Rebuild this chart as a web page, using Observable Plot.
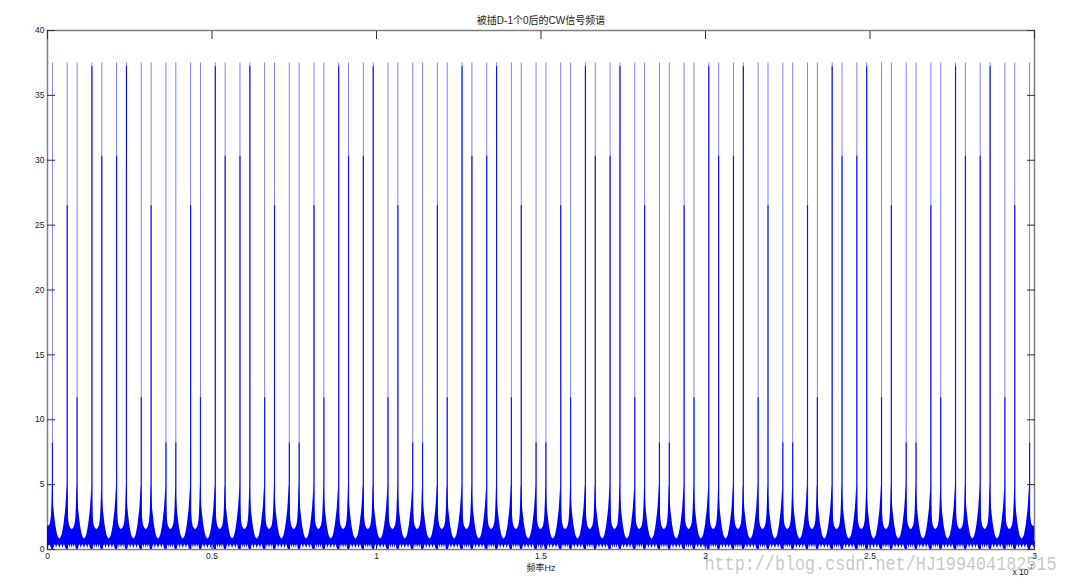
<!DOCTYPE html>
<html><head><meta charset="utf-8">
<script src="https://cdn.jsdelivr.net/npm/d3@7"></script>
<script src="https://cdn.jsdelivr.net/npm/@observablehq/plot@0.6"></script>
<style>
body{margin:0;background:#fff;}
#chart{width:1067px;height:581px;}
</style></head><body><div id="chart"></div>
<script>
// ---- text ----
const titleText = "被插D-1个0后的CW信号频谱";
const xLabelText = "频率Hz";
const xExpBase = "x 10";
const xExpPow = "7";
const watermarkText = "http://blog.csdn.net/HJ199404182515";

// ---- ticks ----
const xTicks = [0, 0.5e7, 1e7, 1.5e7, 2e7, 2.5e7, 3e7];
const xTickLabels = ["0", "0.5", "1", "1.5", "2", "2.5", "3"];
const yTicks = [0, 5, 10, 15, 20, 25, 30, 35, 40];

// ---- spectral lines (frequency in MHz) ----
const spikeFreqMHz = [
  0.15,
  0.6, 0.9, 1.35, 1.65, 2.1, 2.4, 2.85, 3.15, 3.6, 3.9,
  4.35, 4.65, 5.1, 5.4, 5.85, 6.15, 6.6, 6.9, 7.35, 7.65,
  8.1, 8.4, 8.85, 9.15, 9.6, 9.9, 10.35, 10.65, 11.1, 11.4,
  11.85, 12.15, 12.6, 12.9, 13.35, 13.65, 14.1, 14.4, 14.85, 15.15,
  15.6, 15.9, 16.35, 16.65, 17.1, 17.4, 17.85, 18.15, 18.6, 18.9,
  19.35, 19.65, 20.1, 20.4, 20.85, 21.15, 21.6, 21.9, 22.35, 22.65,
  23.1, 23.4, 23.85, 24.15, 24.6, 24.9, 25.35, 25.65, 26.1, 26.4,
  26.85, 27.15, 27.6, 27.9, 28.35, 28.65, 29.1, 29.4,
  29.85
];
// peak of every line
const spikePeak = [
  37.5,
  37.5, 37.5, 37.5, 37.5, 37.5, 37.5, 37.5, 37.5, 37.5, 37.5,
  37.5, 37.5, 37.5, 37.5, 37.5, 37.5, 37.5, 37.5, 37.5, 37.5,
  37.5, 37.5, 37.5, 37.5, 37.5, 37.5, 37.5, 37.5, 37.5, 37.5,
  37.5, 37.5, 37.5, 37.5, 37.5, 37.5, 37.5, 37.5, 37.5, 37.5,
  37.5, 37.5, 37.5, 37.5, 37.5, 37.5, 37.5, 37.5, 37.5, 37.5,
  37.5, 37.5, 37.5, 37.5, 37.5, 37.5, 37.5, 37.5, 37.5, 37.5,
  37.5, 37.5, 37.5, 37.5, 37.5, 37.5, 37.5, 37.5, 37.5, 37.5,
  37.5, 37.5, 37.5, 37.5, 37.5, 37.5, 37.5, 37.5,
  37.5
];
// height of the neighbouring FFT sample (dense part of each line)
const spikeShoulder = [
  8.2,
  26.5, 11.7, 37.2, 30.3, 30.3, 37.2, 11.7, 26.5, 8.2, 8.2,
  26.5, 11.7, 37.2, 30.3, 30.3, 37.2, 11.7, 26.5, 8.2, 8.2,
  26.5, 11.7, 37.2, 30.3, 30.3, 37.2, 11.7, 26.5, 8.2, 8.2,
  26.5, 11.7, 37.2, 30.3, 30.3, 37.2, 11.7, 26.5, 8.2, 8.2,
  26.5, 11.7, 37.2, 30.3, 30.3, 37.2, 11.7, 26.5, 8.2, 8.2,
  26.5, 11.7, 37.2, 30.3, 30.3, 37.2, 11.7, 26.5, 8.2, 8.2,
  26.5, 11.7, 37.2, 30.3, 30.3, 37.2, 11.7, 26.5, 8.2, 8.2,
  26.5, 11.7, 37.2, 30.3, 30.3, 37.2, 11.7, 26.5,
  8.2
];

// ---- leakage floor envelope read between two lines (t = fraction of the gap) ----
const gapT        = [0, 0.02, 0.05, 0.1, 0.16, 0.22, 0.28, 0.35, 0.42, 0.5, 0.58, 0.65, 0.72, 0.78, 0.84, 0.9, 0.95, 0.98, 1];
const farGapTop   = [5.0, 4.6, 4.0, 3.1, 2.5, 1.9, 1.5, 1.1, 0.9, 0.8, 0.9, 1.1, 1.5, 1.9, 2.5, 3.1, 4.0, 4.6, 5.0];
const closeGapTop = [5.0, 4.6, 3.8, 2.8, 2.2, 1.9, 1.75, 1.65, 1.58, 1.55, 1.58, 1.65, 1.75, 1.9, 2.2, 2.8, 3.8, 4.6, 5.0];
const gapLow      = [0, 0, 0, 0.1, 0.35, 0.35, 0.08, 0.35, 0.35, 0.08, 0.35, 0.35, 0.08, 0.35, 0.35, 0.1, 0, 0, 0];
const edgeT   = [0, 0.3, 0.6, 0.8, 0.92, 1];
const edgeTop = [1.8, 1.8, 2.0, 2.6, 3.6, 5.0];
const edgeLow = [0.1, 0.3, 0.3, 0.1, 0, 0];

// ---- build tables ----
const spikes = spikeFreqMHz.map((f, i) => ({f: f * 1e6, peak: spikePeak[i], shoulder: spikeShoulder[i]}));
const fMax = xTicks[xTicks.length - 1];
const fill = [];
const first = spikes[0].f, last = spikes[spikes.length - 1].f;
edgeT.forEach((t, j) => fill.push({f: t * first, hi: edgeTop[j], lo: edgeLow[j]}));
for (let i = 0; i < spikes.length - 1; i++) {
  const a = spikes[i].f, b = spikes[i + 1].f;
  const top = (b - a) < 0.4e6 ? closeGapTop : farGapTop;
  gapT.forEach((t, j) => fill.push({f: a + t * (b - a), hi: top[j], lo: gapLow[j]}));
}
for (let j = edgeT.length - 1; j >= 0; j--) {
  fill.push({f: last + (1 - edgeT[j]) * (fMax - last), hi: edgeTop[j], lo: edgeLow[j]});
}

const font = "'Liberation Sans', Arial, 'Noto Sans CJK SC', sans-serif";
const tickCol = "#333";

const plot = Plot.plot({
  width: 1067, height: 581,
  marginLeft: 47, marginRight: 33, marginTop: 30, marginBottom: 32,
  style: {fontFamily: font, fontSize: "8.5px", color: "#1a1a1a", background: "#fff"},
  x: {domain: [0, fMax], label: null},
  y: {domain: [0, 40], label: null},
  marks: [
    Plot.text([watermarkText], {frameAnchor: "bottom-right", dx: 22, dy: 14, textAnchor: "end", lineAnchor: "middle",
      fontFamily: "'Liberation Mono', monospace", fontSize: 20, fill: "#bdbdbd", fillOpacity: 0.85, text: d => d}),
    Plot.frame({stroke: "#7f7f7f", strokeWidth: 1.5}),
    Plot.axisY(yTicks, {anchor: "left", tickSize: -8, tickFormat: () => "", stroke: tickCol, label: null}),
    Plot.axisY(yTicks, {anchor: "right", tickSize: -8, tickFormat: () => "", stroke: tickCol, label: null}),
    Plot.axisX(xTicks, {anchor: "top", tickSize: -8, tickFormat: () => "", stroke: tickCol, label: null}),
    Plot.axisX(xTicks, {anchor: "bottom", tickSize: -8, tickFormat: () => "", stroke: tickCol, label: null}),
    Plot.areaY(fill, {x: "f", y1: "lo", y2: "hi", fill: "#0000ff"}),
    Plot.ruleX(spikes, {x: "f", y1: 0, y2: "peak", stroke: "#0000ff", strokeOpacity: 0.5, strokeWidth: 1}),
    Plot.ruleX(spikes, {x: "f", y1: 0, y2: "shoulder", stroke: "#0000ff", strokeOpacity: 0.85, strokeWidth: 1.2}),
    Plot.axisY(yTicks, {anchor: "left", tickSize: 0, tickPadding: 3, label: null, fill: "#1a1a1a"}),
    Plot.axisX(xTicks, {anchor: "bottom", tickSize: 0, tickPadding: 3, label: null, fill: "#1a1a1a",
      tickFormat: d => xTickLabels[xTicks.indexOf(d)]}),
    Plot.text([titleText], {frameAnchor: "top", dy: -10, lineAnchor: "middle", fontSize: 10, fill: "#1a1a1a", text: d => d}),
    Plot.text([xLabelText], {frameAnchor: "bottom", dy: 19, lineAnchor: "middle", fontSize: 9, fill: "#1a1a1a", text: d => d}),
    Plot.text([xExpBase], {frameAnchor: "bottom-right", dx: -6, dy: 23, textAnchor: "end", lineAnchor: "middle", fontSize: 8.5, fill: "#1a1a1a", text: d => d}),
    Plot.text([xExpPow], {frameAnchor: "bottom-right", dx: -5, dy: 17, textAnchor: "start", lineAnchor: "middle", fontSize: 6.5, fill: "#1a1a1a", text: d => d})
  ]
});
document.getElementById("chart").appendChild(plot);
// stretch the watermark to its measured width
d3.select(plot).selectAll("text").filter(function () { return this.textContent === watermarkText; })
  .attr("textLength", 352).attr("lengthAdjust", "spacingAndGlyphs");
</script>
</body></html>
